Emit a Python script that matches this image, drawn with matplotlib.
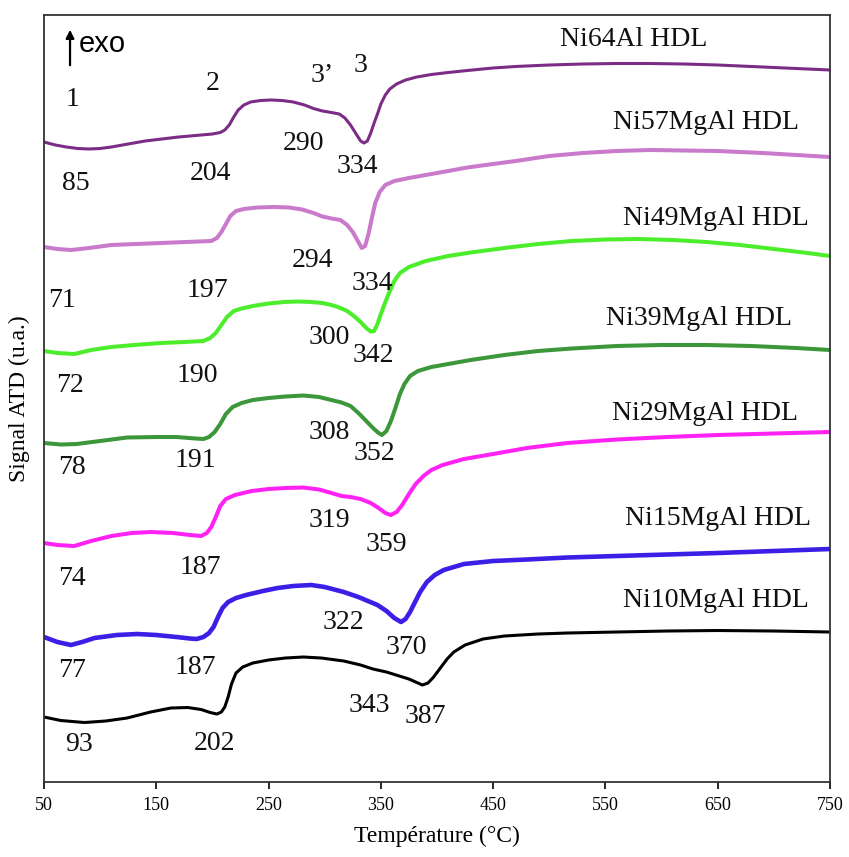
import matplotlib
matplotlib.use("Agg")
import matplotlib.pyplot as plt
import numpy as np

plt.rcParams['font.family'] = ['Liberation Serif', 'DejaVu Serif']

# DTA curves (temperature in degC, signal in u.a.)
t_ni64 = [50, 60, 70, 80, 90, 100, 110, 125, 140, 155, 170, 185, 200, 207, 211, 215,
          219, 223, 228, 234, 243, 252, 262, 272, 282, 290, 298, 306, 313, 318,
          323, 328, 332, 335, 338, 341, 344, 347, 350, 354, 358, 364, 372, 382,
          395, 410, 427, 450, 470, 500, 530, 560, 590, 620, 650, 680, 710, 750]
s_ni64 = [64.0, 63.7, 63.5, 63.35, 63.3, 63.35, 63.5, 63.8, 64.1, 64.3, 64.5, 64.65, 64.8, 64.95, 65.2, 65.7,
          66.5, 67.2, 67.7, 68.0, 68.15, 68.2, 68.15, 68.0, 67.7, 67.35, 67.1, 66.95, 66.8, 66.4,
          65.7, 64.8, 64.1, 63.9, 64.1, 64.9, 65.9, 66.8, 67.8, 68.7, 69.3, 69.8, 70.2, 70.5,
          70.75, 70.95, 71.15, 71.4, 71.55, 71.7, 71.8, 71.85, 71.85, 71.8, 71.7, 71.55, 71.4, 71.2]

t_ni57 = [50, 62, 74, 90, 110, 154, 199, 204, 208, 212, 216, 221, 228, 240, 255, 268,
          280, 290, 298, 306, 314, 320, 325, 329, 333, 336, 339, 342, 345, 349,
          354, 362, 375, 390, 410, 427, 450, 470, 500, 530, 560, 590, 620, 650,
          690, 720, 750]
s_ni57 = [53.5, 53.3, 53.2, 53.4, 53.7, 53.9, 54.1, 54.4, 55.0, 55.8, 56.6, 57.1, 57.3, 57.45, 57.5, 57.45,
          57.25, 56.9, 56.55, 56.35, 56.2, 55.7, 55.0, 54.2, 53.4, 53.6, 54.8, 56.4, 57.9, 59.0,
          59.7, 60.1, 60.4, 60.7, 61.1, 61.45, 61.8, 62.1, 62.6, 62.9, 63.1, 63.2, 63.15, 63.1,
          62.9, 62.7, 62.5]

t_ni49 = [50, 62, 77, 92, 110, 130, 154, 175, 192, 198, 203, 208, 213, 219, 226, 236,
          250, 264, 276, 288, 298, 306, 313, 320, 326, 332, 337, 341, 344, 347,
          350, 354, 358, 362, 367, 375, 390, 410, 430, 460, 490, 520, 550, 580,
          610, 640, 670, 700, 730, 750]
s_ni49 = [43.1, 42.9, 42.8, 43.2, 43.5, 43.7, 43.9, 44.0, 44.1, 44.4, 44.9, 45.7, 46.5, 47.1, 47.35, 47.6,
          47.85, 48.0, 48.05, 48.0, 47.9, 47.7, 47.45, 47.1, 46.6, 46.0, 45.4, 45.05, 45.1, 45.8,
          46.8, 48.0, 49.1, 50.1, 50.9, 51.5, 52.1, 52.6, 52.95, 53.4, 53.8, 54.1, 54.25, 54.3,
          54.2, 54.0, 53.7, 53.3, 52.9, 52.6]

t_ni39 = [50, 65, 79, 100, 124, 150, 168, 185, 192, 197, 202, 207, 212, 218, 226, 236,
          250, 265, 281, 295, 306, 315, 323, 330, 337, 343, 348, 351, 355, 359,
          363, 367, 371, 376, 383, 395, 410, 430, 460, 490, 520, 560, 600, 640,
          680, 720, 750]
s_ni39 = [33.9, 33.75, 33.8, 34.1, 34.45, 34.5, 34.5, 34.35, 34.3, 34.5, 35.0, 35.8, 36.8, 37.5, 37.9, 38.2,
          38.4, 38.55, 38.65, 38.5, 38.2, 37.95, 37.6, 36.9, 36.1, 35.4, 34.9, 34.7, 35.1, 36.1,
          37.4, 38.8, 39.8, 40.6, 41.1, 41.5, 41.8, 42.2, 42.7, 43.1, 43.35, 43.6, 43.7, 43.7,
          43.6, 43.4, 43.2]

t_ni29 = [50, 62, 77, 92, 110, 128, 145, 165, 180, 190, 195, 199, 203, 207, 212, 220,
          235, 250, 265, 281, 295, 306, 315, 323, 332, 341, 348, 354, 359, 364,
          369, 375, 381, 388, 395, 405, 424, 450, 480, 516, 560, 605, 650, 700,
          750]
s_ni29 = [23.9, 23.7, 23.6, 24.1, 24.6, 24.9, 25.0, 24.9, 24.7, 24.6, 24.9, 25.5, 26.5, 27.6, 28.3, 28.7,
          29.1, 29.3, 29.4, 29.45, 29.25, 28.9, 28.6, 28.5, 28.3, 27.9, 27.4, 26.9, 26.7, 27.0,
          27.7, 28.8, 29.8, 30.6, 31.2, 31.7, 32.3, 32.8, 33.4, 33.9, 34.25, 34.5, 34.7, 34.85,
          35.0]

t_ni15 = [50, 62, 74, 84, 95, 115, 133, 150, 168, 180, 186, 192, 197, 201, 205, 209,
          214, 221, 230, 245, 258, 272, 288, 300, 317, 330, 347, 355, 362, 368,
          372, 376, 380, 385, 391, 398, 406, 424, 450, 480, 516, 560, 605, 650,
          700, 750]
s_ni15 = [14.5, 14.0, 13.7, 14.0, 14.4, 14.7, 14.8, 14.7, 14.5, 14.35, 14.3, 14.5, 14.9, 15.5, 16.5, 17.4,
          18.0, 18.4, 18.7, 19.1, 19.4, 19.6, 19.7, 19.5, 19.0, 18.5, 17.7, 17.1, 16.4, 16.0,
          16.3, 17.0, 17.9, 19.0, 20.0, 20.7, 21.2, 21.8, 22.1, 22.25, 22.45, 22.6, 22.75, 22.9,
          23.1, 23.3]

t_ni10 = [50, 65, 86, 105, 124, 145, 163, 178, 190, 198, 204, 208, 211, 214, 217, 221,
          227, 236, 250, 265, 281, 297, 317, 332, 343, 355, 365, 375, 383, 387,
          392, 397, 403, 409, 415, 425, 441, 460, 490, 516, 560, 605, 650, 700,
          750]
s_ni10 = [6.5, 6.15, 5.95, 6.1, 6.4, 7.0, 7.4, 7.45, 7.25, 6.95, 6.8, 7.0, 7.5, 8.5, 9.8, 10.9,
          11.5, 11.9, 12.2, 12.4, 12.5, 12.4, 12.1, 11.7, 11.3, 11.0, 10.65, 10.3, 9.9, 9.7,
          9.9, 10.5, 11.4, 12.3, 13.0, 13.7, 14.3, 14.6, 14.8, 14.9, 15.0, 15.1, 15.15, 15.1,
          15.0]

names = ["Ni64Al HDL", "Ni57MgAl HDL", "Ni49MgAl HDL", "Ni39MgAl HDL",
         "Ni29MgAl HDL", "Ni15MgAl HDL", "Ni10MgAl HDL"]
name_x = [575, 640, 648, 633, 639, 650, 648]
name_y = [74.2, 65.9, 56.4, 46.4, 36.9, 26.4, 18.2]

# peak temperatures written on the chart and where they sit
peak_txt = ["1", "2", "3\u2019", "3",
            "85", "204", "290", "334",
            "71", "197", "294", "334",
            "72", "190", "300", "342",
            "78", "191", "308", "352",
            "74", "187", "319", "359",
            "77", "187", "322", "370",
            "93", "202", "343", "387"]
peak_x = [75, 200, 298, 332,
          78, 198, 281, 329,
          66, 196, 289, 342,
          73, 187, 304, 343,
          75, 185, 304, 344,
          75, 189, 304, 355,
          75, 185, 317, 373,
          81, 202, 340, 390]
peak_y = [68.2, 69.8, 70.6, 71.6,
          59.9, 60.9, 63.9, 61.6,
          48.2, 49.2, 52.2, 49.9,
          39.7, 40.7, 44.5, 42.7,
          31.5, 32.2, 35.0, 32.9,
          20.4, 21.5, 26.2, 23.8,
          11.2, 11.5, 16.0, 13.5,
          3.8, 3.9, 7.7, 6.6]

xticks = [50, 150, 250, 350, 450, 550, 650, 750]

fig = plt.figure(figsize=(8.49, 8.57), dpi=100)
ax = fig.add_axes([0.0518, 0.0875, 0.9258, 0.895])

curves = [(t_ni64, s_ni64, "#7B2C85", 2.2),
          (t_ni57, s_ni57, "#C97ACB", 2.9),
          (t_ni49, s_ni49, "#4CEE2C", 2.9),
          (t_ni39, s_ni39, "#3C963A", 2.9),
          (t_ni29, s_ni29, "#FF22F5", 2.9),
          (t_ni15, s_ni15, "#3C1FE6", 3.3),
          (t_ni10, s_ni10, "#000000", 2.2)]
for t, s, c, lw in curves:
    ax.plot(t, s, color=c, lw=lw, solid_joinstyle='round', solid_capstyle='round')

for txt, x, y in zip(names, name_x, name_y):
    ax.text(x, y, txt, fontsize=20, ha='center', va='center', color='#111111')

for txt, x, y in zip(peak_txt, peak_x, peak_y):
    ax.text(x, y, txt, fontsize=20, ha='center', va='center', color='#111111')

# exo arrow
ax.annotate("", xy=(73.2, 75.5), xytext=(73.2, 71.4),
            arrowprops=dict(arrowstyle='-|>', color='black', lw=1.6, mutation_scale=12))
ax.text(81, 73.8, "exo", fontsize=21, family='Liberation Sans', ha='left', va='center')

ax.set_xlim(50, 750)
ax.set_ylim(0, 76.7)
ax.set_xticks(xticks)
ax.set_yticks([])
ax.tick_params(axis='x', direction='out', length=5, width=1.2, labelsize=13, pad=6)
for sp in ax.spines.values():
    sp.set_linewidth(1.3)
    sp.set_color('#333333')
ax.set_xlabel("Température (°C)", fontsize=17, labelpad=8)
ax.set_ylabel("Signal ATD (u.a.)", fontsize=17, labelpad=10)

plt.savefig("out.png", dpi=100)
